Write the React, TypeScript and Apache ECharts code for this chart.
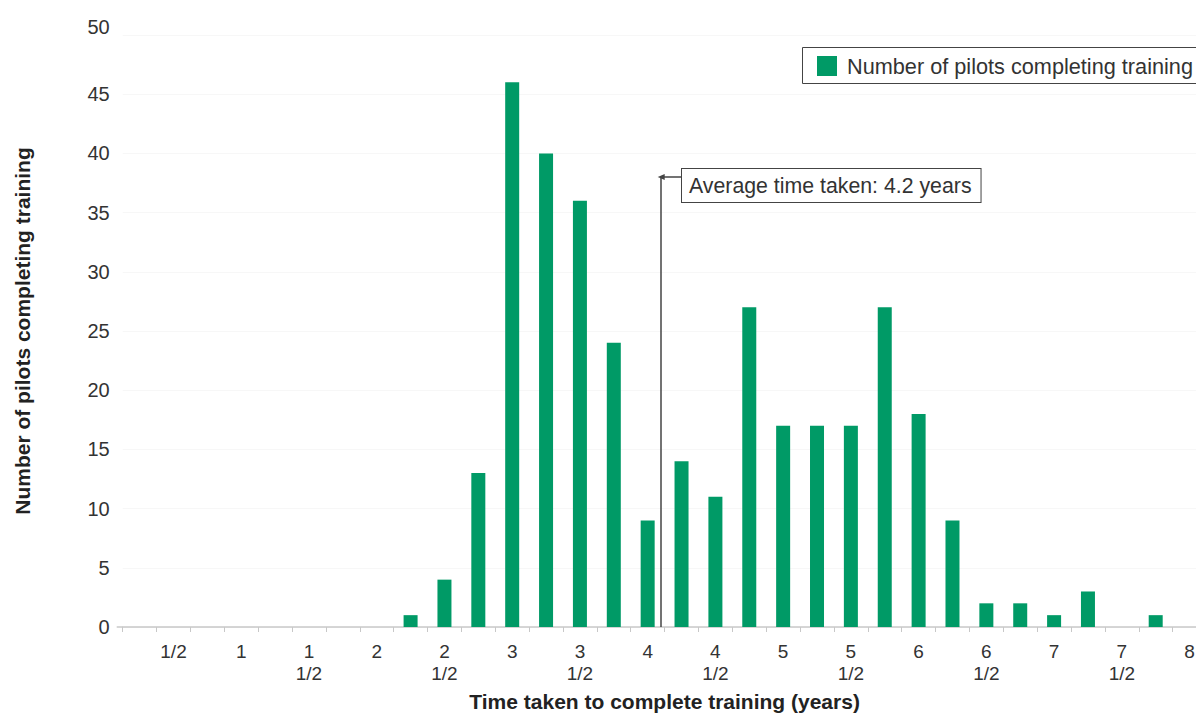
import React, { useEffect, useRef } from "react";
import * as echarts from "echarts";

// Quarter-year bins (years) shown on the category axis
const yearCategories = [
  "0.25", "0.5", "0.75", "1", "1.25", "1.5", "1.75", "2",
  "2.25", "2.5", "2.75", "3", "3.25", "3.5", "3.75", "4",
  "4.25", "4.5", "4.75", "5", "5.25", "5.5", "5.75", "6",
  "6.25", "6.5", "6.75", "7", "7.25", "7.5", "7.75", "8",
];

// Tick labels as printed under the axis
const tickLabels: Record<string, string> = {
  "0.5": "1/2",
  "1": "1",
  "1.5": "1\n1/2",
  "2": "2",
  "2.5": "2\n1/2",
  "3": "3",
  "3.5": "3\n1/2",
  "4": "4",
  "4.5": "4\n1/2",
  "5": "5",
  "5.5": "5\n1/2",
  "6": "6",
  "6.5": "6\n1/2",
  "7": "7",
  "7.5": "7\n1/2",
  "8": "8",
};

const pilotCounts = [
  0, 0, 0, 0, 0, 0, 0, 0,
  1, 4, 13, 46, 40, 36, 24, 9,
  14, 11, 27, 17, 17, 17, 27, 18,
  9, 2, 2, 1, 3, 0, 1, 0,
];

const seriesName = "Number of pilots completing training";
const averageLabel = "Average time taken: 4.2 years";
const averageLineYears = 4.1; // where the marker is drawn on the year scale
const averageLineTop = 38; // pilot-count height where the marker ends
const arrowStartYears = 4.246;

const yMin = 0;
const yMax = 50;
const yInterval = 5;

const FONT = "'Liberation Sans', Arial, Helvetica, sans-serif";

export default function App() {
  const ref = useRef<HTMLDivElement>(null);

  useEffect(() => {
    if (!ref.current) return;
    const chart = echarts.init(ref.current, undefined, { renderer: "svg" });

    const option: any = {
      animation: false,
      backgroundColor: "#ffffff",
      textStyle: { fontFamily: FONT },
      grid: {
        left: 122.7,
        right: -10.5,
        top: 35,
        bottom: 88,
        containLabel: false,
        outerBoundsMode: "none",
      },
      legend: {
        show: true,
        data: [seriesName],
        left: 802,
        top: 47,
        padding: [8, 0, 8, 15],
        borderWidth: 0,
        icon: "rect",
        itemWidth: 20,
        itemHeight: 20,
        textStyle: { fontSize: 21.7, color: "#333", fontFamily: FONT, padding: [0, 0, 0, 5] },
      },
      xAxis: [
        {
          type: "category",
          data: yearCategories,
          boundaryGap: true,
          axisLine: { show: true, lineStyle: { color: "#c8c8c8", width: 1.5 } },
          axisTick: { show: true, interval: 0, length: 5, lineStyle: { color: "#c8c8c8", width: 1 } },
          axisLabel: {
            interval: 0,
            margin: 13,
            fontSize: 19,
            lineHeight: 22,
            color: "#333",
            fontFamily: FONT,
            formatter: (v: string) => tickLabels[v] ?? "",
          },
          name: "Time taken to complete training (years)",
          nameLocation: "middle",
          nameGap: 64,
          nameTextStyle: { fontSize: 21, fontWeight: "bold", color: "#222", fontFamily: FONT },
          splitLine: { show: false },
        },
        {
          type: "value",
          min: 0.125,
          max: 8.125,
          show: false,
        },
      ],
      yAxis: {
        type: "value",
        min: yMin,
        max: yMax,
        interval: yInterval,
        axisLine: { show: false },
        axisTick: { show: false },
        axisLabel: {
          margin: 13,
          fontSize: 20,
          color: "#333",
          fontFamily: FONT,
          formatter: (v: number) => (v === yMax ? `{top|${v}}` : `${v}`),
          rich: { top: { fontSize: 20, color: "#333", fontFamily: FONT, padding: [0, 0, 16, 0] } },
        },
        splitLine: { show: true, lineStyle: { color: "#f7f7f7", width: 1 } },
        name: "Number of pilots completing training",
        nameLocation: "middle",
        nameGap: 90,
        nameRotate: 90,
        nameTextStyle: { fontSize: 21, fontWeight: "bold", color: "#222", fontFamily: FONT },
      },
      series: [
        {
          name: seriesName,
          type: "bar",
          data: pilotCounts,
          barWidth: 14,
          itemStyle: { color: "#009a66" },
          xAxisIndex: 0,
        },
        {
          name: "average",
          type: "scatter",
          xAxisIndex: 1,
          data: [],
          silent: true,
          markLine: {
            silent: true,
            symbol: "none",
            label: { show: false },
            lineStyle: { color: "#444", width: 1.5, type: "solid" },
            data: [
              [
                { coord: [averageLineYears, 0] },
                { coord: [averageLineYears, averageLineTop] },
              ],
              [
                { coord: [arrowStartYears, averageLineTop], symbol: "none" },
                { coord: [averageLineYears, averageLineTop], symbol: "triangle", symbolSize: [6, 7], symbolRotate: 90 },
              ],
            ],
          },
        },
      ],
      graphic: [
        {
          type: "line",
          shape: { x1: 116.7, y1: 627, x2: 122.7, y2: 627 },
          style: { stroke: "#c8c8c8", lineWidth: 1.5 },
          silent: true,
        },
        {
          type: "rect",
          shape: { x: 802.5, y: 47.5, width: 430, height: 36 },
          style: { fill: "#fff", stroke: "#444", lineWidth: 1 },
          silent: true,
          z: -1,
        },
        {
          type: "text",
          left: 681,
          top: 168,
          silent: true,
          style: {
            text: averageLabel,
            font: `21.3px ${FONT}`,
            fill: "#333",
            backgroundColor: "#fff",
            borderColor: "#444",
            borderWidth: 1,
            padding: [6, 9, 6, 7],
          },
        },
      ],
    };

    chart.setOption(option);
    return () => chart.dispose();
  }, []);

  return (
    <div
      ref={ref}
      style={{ position: "fixed", left: 0, top: 0, width: 1196, height: 715, overflow: "hidden" }}
    />
  );
}
